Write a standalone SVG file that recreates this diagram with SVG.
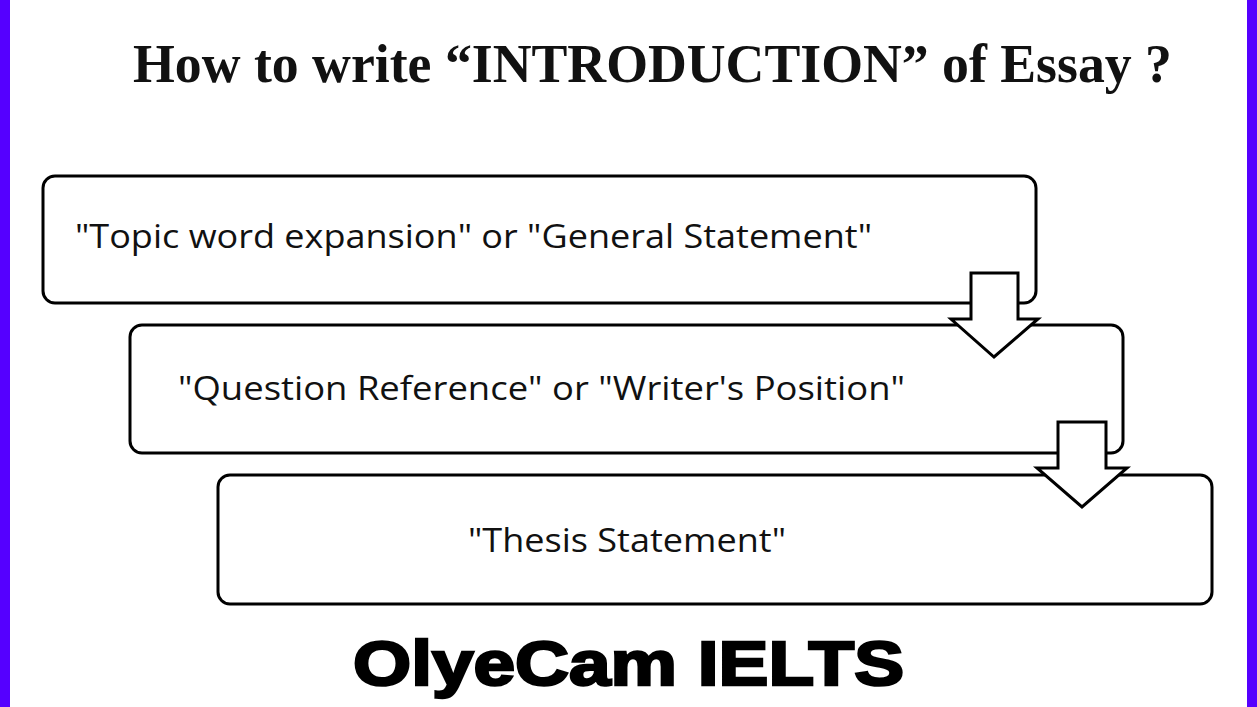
<svg xmlns="http://www.w3.org/2000/svg" width="1257" height="707" viewBox="0 0 1257 707">
<style>
.box{fill:#fff;stroke:#000;stroke-width:3}
.arrow{fill:#fff;stroke:#000;stroke-width:3;stroke-linejoin:miter}
.lbl{font-family:"Open Sans","Noto Sans","DejaVu Sans",sans-serif;font-size:33px;fill:#111}
.title{font-family:"Liberation Serif","Times New Roman",serif;font-weight:bold;font-size:55px;fill:#111}
.foot{font-family:"Liberation Sans",Arial,sans-serif;font-weight:900;font-size:63px;fill:#000;stroke:#000;stroke-width:2.5}
.band{fill:#5500ff}
</style>
<rect x="0" y="0" width="1257" height="707" fill="#fff"/>
<rect class="band" x="0" y="0" width="10" height="707"/>
<rect class="band" x="1247" y="0" width="10" height="707"/>
<text class="title" x="133" y="82" textLength="1039" lengthAdjust="spacingAndGlyphs">How to write “INTRODUCTION” of Essay ?</text>
<g id="node1">
<rect class="box" x="43" y="176" width="993" height="127" rx="12"/>
<text class="lbl" x="75" y="248" textLength="797" lengthAdjust="spacingAndGlyphs">"Topic word expansion" or "General Statement"</text>
</g>
<g id="node2">
<rect class="box" x="130" y="325" width="993" height="128" rx="12"/>
<text class="lbl" x="178" y="400" textLength="727" lengthAdjust="spacingAndGlyphs">"Question Reference" or "Writer's Position"</text>
</g>
<g id="node3">
<rect class="box" x="218" y="475" width="994" height="129" rx="12"/>
<text class="lbl" x="468" y="552" textLength="318" lengthAdjust="spacingAndGlyphs">"Thesis Statement"</text>
</g>
<g id="connectors">
<polygon class="arrow" points="971,273 1018,273 1018,319 1038,319 994,357 951,319 971,319"/>
<polygon class="arrow" points="1058,422 1106,422 1106,468 1127,468 1082,507 1037,468 1058,468"/>
</g>
<text class="foot" x="353" y="685" textLength="551" lengthAdjust="spacingAndGlyphs">OlyeCam IELTS</text>
</svg>
